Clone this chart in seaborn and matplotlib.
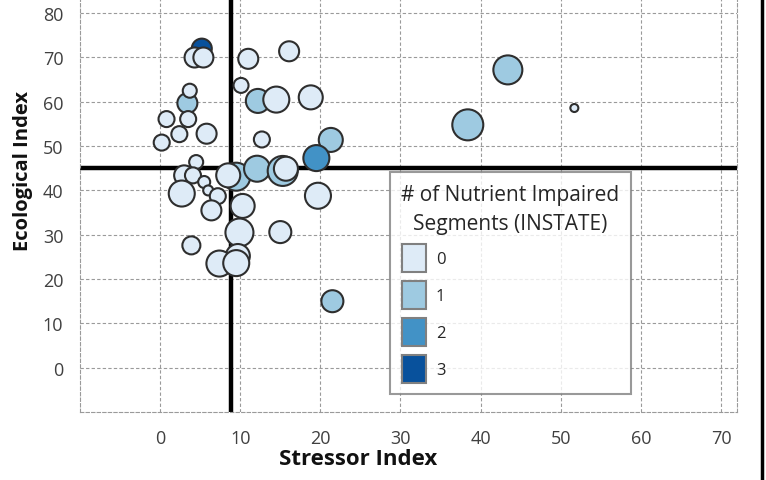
import matplotlib
matplotlib.use("Agg")
import matplotlib.pyplot as plt
from matplotlib.patches import Patch
from matplotlib.lines import Line2D
import seaborn as sns
import pandas as pd

# ---- data (listed in drawing order) ----
stressor = [3.4, 12.2, 21.3, 43.4, 38.4, 9.5, 12.1, 15.3, 21.5,
            19.5,
            5.2,
            4.3, 5.4, 3.7, 0.8, 3.5, 2.4, 5.8, 0.2,
            11.0, 16.1, 10.1, 14.5, 18.8, 12.7, 51.7,
            4.5, 3.0, 4.1, 5.5, 6.0, 2.7, 7.2, 6.4, 8.5,
            15.7, 19.7, 10.3, 9.9, 15.0, 3.9, 9.7, 7.4, 9.5]
ecological = [59.7, 60.2, 51.4, 67.2, 54.8, 43.1, 44.9, 44.4, 15.0,
              47.3,
              72.0,
              70.0, 70.0, 62.5, 56.1, 56.1, 52.7, 52.8, 50.8,
              69.7, 71.4, 63.7, 60.5, 61.0, 51.5, 58.6,
              46.4, 43.4, 43.4, 41.9, 40.0, 39.3, 38.7, 35.5, 43.4,
              44.9, 38.8, 36.5, 30.5, 30.6, 27.6, 25.2, 23.5, 23.6]
impaired = ["1", "1", "1", "1", "1", "1", "1", "1", "1",
            "2",
            "3",
            "0", "0", "0", "0", "0", "0", "0", "0",
            "0", "0", "0", "0", "0", "0", "0",
            "0", "0", "0", "0", "0", "0", "0", "0", "0",
            "0", "0", "0", "0", "0", "0", "0", "0", "0"]
bubble_value = [100, 144, 144, 210, 240, 196, 169, 225, 121,
                169,
                100,
                100, 100, 49, 64, 64, 64, 100, 64,
                100, 100, 56, 169, 144, 64, 16,
                49, 100, 64, 36, 25, 169, 64, 100, 144,
                144, 169, 144, 196, 121, 81, 144, 169, 169]

categories = ["0", "1", "2", "3"]
cat_colors = ["#DEEBF7", "#9ECAE1", "#4292C6", "#08519C"]
x_threshold = 8.8
y_threshold = 45
x_ticks = [0, 10, 20, 30, 40, 50, 60, 70]
y_ticks = [0, 10, 20, 30, 40, 50, 60, 70, 80]
legend_title = "# of Nutrient Impaired\nSegments (INSTATE)"

sns.set_theme(style="white")
plt.rcParams['font.family'] = ['Open Sans', 'DejaVu Sans']

df = pd.DataFrame({"Stressor Index": stressor, "Ecological Index": ecological,
                   "impaired": impaired, "value": bubble_value})

fig = plt.figure(figsize=(7.66, 4.81), dpi=100)
ax = fig.add_axes([80 / 766, 1 - 413 / 481, 657 / 766, 413 / 481])
ax.set_axisbelow(True)
ax.grid(True, linestyle=(0, (3, 2)), color="#9a9a9a", linewidth=0.8)

ax.axvline(x_threshold, color="black", lw=3.2, zorder=1.5)
ax.axhline(y_threshold, color="black", lw=3.2, zorder=1.5)

max_r_px = 15.5
sns.scatterplot(data=df, x="Stressor Index", y="Ecological Index",
                hue="impaired", hue_order=categories,
                palette=dict(zip(categories, cat_colors)),
                size="value", sizes=(0, (1.44 * max_r_px) ** 2), size_norm=(0, 240),
                edgecolor="#2e2e2e", linewidth=1.5, alpha=1,
                legend=False, ax=ax, zorder=3)

ax.set_xlim(-10, 72)
ax.set_ylim(-10, 83.2)
ax.set_xticks(x_ticks)
ax.set_yticks(y_ticks)
ax.tick_params(length=0, labelsize=13, colors="#404040", pad=12)
for s in ["left", "bottom", "right"]:
    ax.spines[s].set_visible(True)
    ax.spines[s].set_color("#9a9a9a")
    ax.spines[s].set_linestyle((0, (3, 2)))
    ax.spines[s].set_linewidth(0.8)
ax.spines["top"].set_visible(False)

ax.set_xlabel("Stressor Index", fontsize=16, fontweight="bold", color="#111111")
ax.set_ylabel("Ecological Index", fontsize=14.5, fontweight="bold", color="#111111")
ax.xaxis.set_label_coords(0.423, -0.088)
ax.yaxis.set_label_coords(-0.072, 0.585)

handles = [Patch(facecolor=c, edgecolor="#808080", linewidth=1.5) for c in cat_colors]
leg = ax.legend(handles, categories, title=legend_title,
                loc="upper left", bbox_to_anchor=(390 / 766, 1 - 173 / 481, 241 / 766, 0),
                bbox_transform=fig.transFigure, mode="expand",
                fontsize=12, title_fontsize=15, frameon=True, fancybox=False,
                handlelength=1.45, handleheight=2.2, labelspacing=0.55,
                handletextpad=0.6, borderpad=0.7, borderaxespad=0)
leg.get_frame().set_edgecolor("#808080")
leg.get_frame().set_linewidth(1.5)
leg.set_zorder(5)
leg.get_title().set_multialignment("center")
leg.get_title().set_linespacing(1.55)

fig.add_artist(Line2D([762 / 766, 762 / 766], [0, 1], color="black", lw=2.5))

fig.savefig("out.png", dpi=100)
